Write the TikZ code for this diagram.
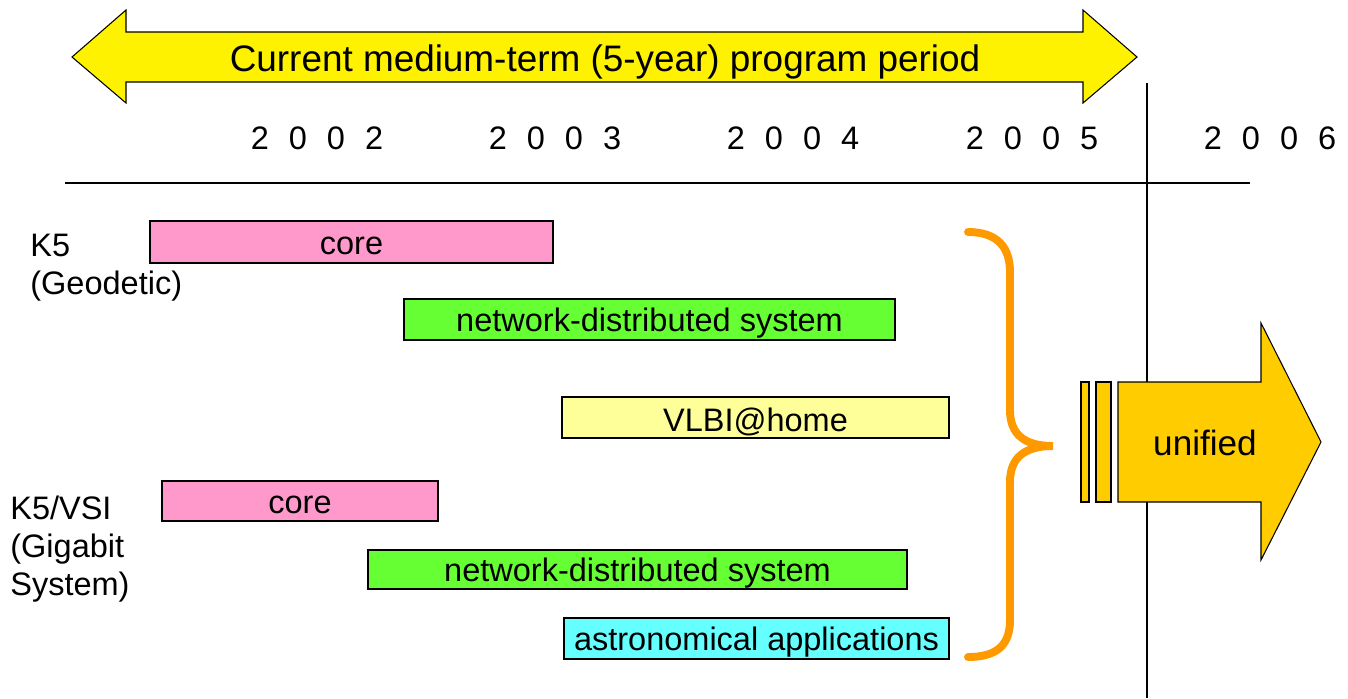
\documentclass[tikz,border=0pt]{standalone}
\usepackage{fontspec}
\setmainfont{Liberation Sans}
\definecolor{pinkbar}{HTML}{FF99CC}
\definecolor{greenbar}{HTML}{66FF33}
\definecolor{palebar}{HTML}{FFFF99}
\definecolor{cyanbar}{HTML}{66FFFF}
\definecolor{bracecol}{HTML}{FF9900}
\definecolor{unicol}{HTML}{FFCC00}
\newcommand\yearlabel[4]{#1\hspace{11.4pt}#2\hspace{11.4pt}#3\hspace{11.4pt}#4}
\tikzset{
  bar/.style = {draw, line width=0.6pt},
  bartext/.style = {font=\fontsize{18.5}{22}\selectfont, inner sep=0pt, yshift=-2.3pt},
  year/.style = {font=\fontsize{18.5}{22}\selectfont},
  group/.style = {font=\fontsize{18.5}{21.5}\selectfont, align=left, anchor=west, inner sep=0pt},
}
\begin{document}
\begin{tikzpicture}[x=0.02cm, y=-0.02cm]
  \useasboundingbox (0,0) rectangle (1348,698);
  % program period arrow
  \draw[fill=yellow, line width=0.6pt] (72,57) -- (126,10) -- (126,32) -- (1083,32) -- (1083,10) -- (1137,57)
    -- (1083,103) -- (1083,82) -- (126,82) -- (126,103) -- cycle;
  \node[font=\fontsize{21}{25}\selectfont, yshift=-1.5pt] (period) at (605,59) {Current medium-term (5-year) program period};
  % time axis
  \foreach \d/\x in {2/317, 3/555, 4/793, 5/1032, 6/1270}
    \node[year] (y200\d) at (\x,138) {\yearlabel{2}{0}{0}{\d}};
  \coordinate (axisL) at (65,183);
  \coordinate (axisR) at (1250,183);
  \coordinate (sepT) at (1147,83);
  \coordinate (sepB) at (1147,698);
  \draw[line width=0.6pt] (axisL) -- (axisR);
  \draw[line width=0.6pt] (sepT) -- (sepB);
  % groups
  \node[group] (k5) at (30,268) {K5\\(Geodetic)};
  \node[group] (vsi) at (10,549) {K5/VSI\\(Gigabit\\System)};
  % bars
  \draw[bar, fill=pinkbar] (150,221) rectangle (553,263) node[bartext, midway] (core1) {core};
  \draw[bar, fill=greenbar] (404,299) rectangle (895,340) node[bartext, midway] (net1) {network-distributed system};
  \draw[bar, fill=palebar] (562,397) rectangle (949,438) node[bartext, midway] (home) {VLBI@home};
  \draw[bar, fill=pinkbar] (162,481) rectangle (438,521) node[bartext, midway] (core2) {core};
  \draw[bar, fill=greenbar] (368,550) rectangle (907,589) node[bartext, midway] (net2) {network-distributed system};
  \draw[bar, fill=cyanbar] (564,618) rectangle (949,659) node[bartext, midway] (astro) {astronomical applications};
  % brace
  \draw[bracecol, line width=4.5pt, line cap=round] (968,232) .. controls (998,232) and (1010,248) .. (1010,272)
    -- (1010,410) .. controls (1010,434) and (1024,446) .. (1053,446)
    .. controls (1024,446) and (1010,458) .. (1010,482)
    -- (1010,620) .. controls (1010,644) and (998,657) .. (968,657);
  % unified arrow
  \draw[fill=unicol, line width=0.6pt] (1081,382) rectangle (1089,502);
  \draw[fill=unicol, line width=0.6pt] (1096,382) rectangle (1111,502);
  \draw[fill=unicol, line width=0.6pt] (1118,382) -- (1261,382) -- (1261,323) -- (1321,442) -- (1261,560)
    -- (1261,502) -- (1118,502) -- cycle;
  \node[font=\fontsize{20}{24}\selectfont] (unified) at (1205,443) {unified};
\end{tikzpicture}
\end{document}
